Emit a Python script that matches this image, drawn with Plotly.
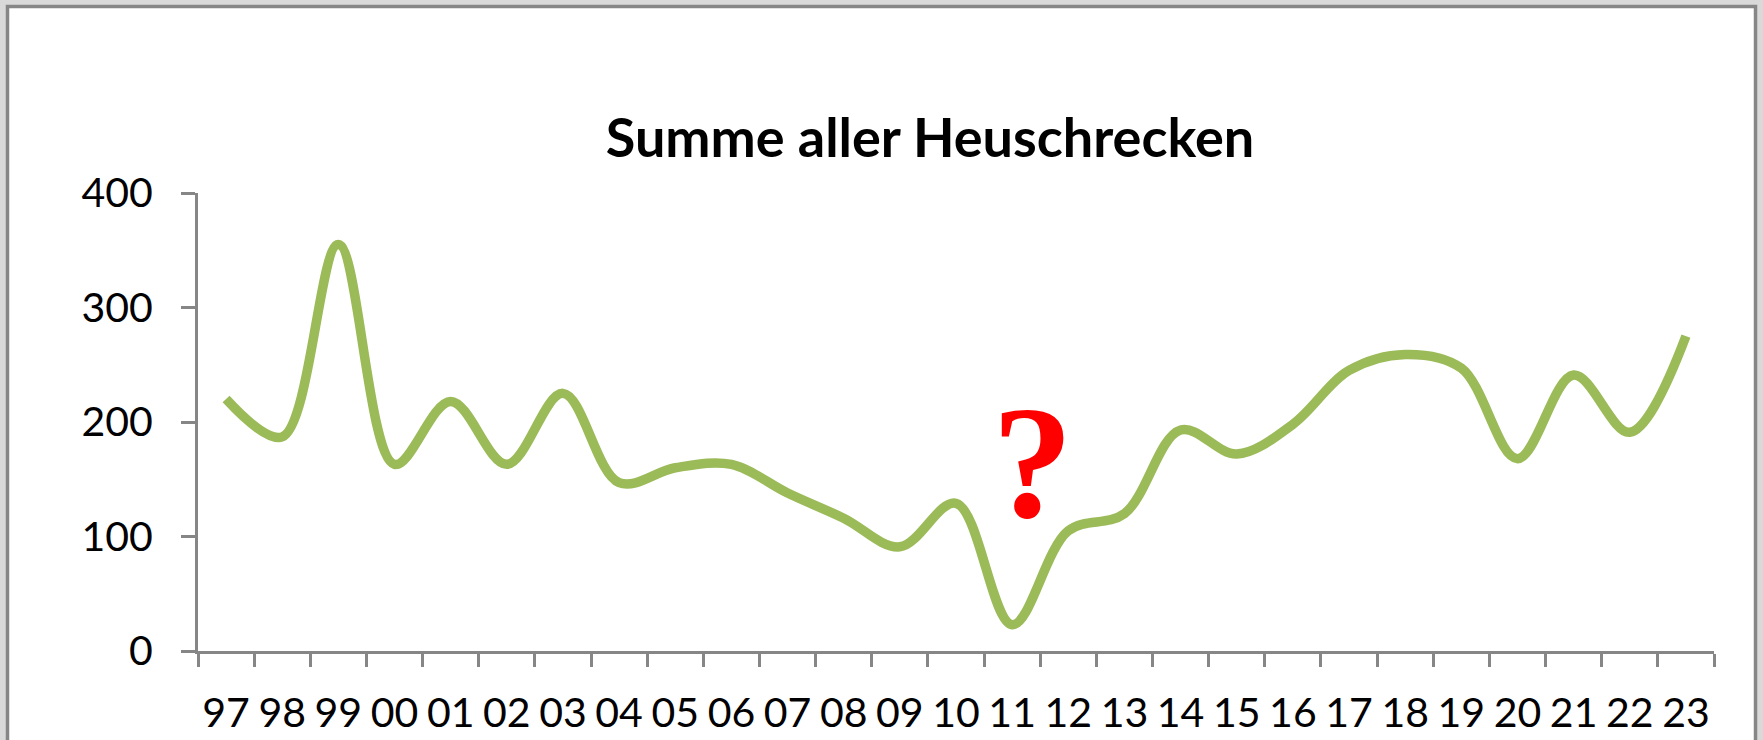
import plotly.graph_objects as go

years = ["97", "98", "99", "00", "01", "02", "03", "04", "05", "06", "07", "08", "09",
         "10", "11", "12", "13", "14", "15", "16", "17", "18", "19", "20", "21", "22", "23"]
summe = [220, 187, 355, 163, 218, 163, 225, 147, 160, 163, 138, 116, 91,
         129, 23, 105, 120, 193, 172, 198, 245, 259, 247, 168, 241, 191, 275]
y_ticks = [0, 100, 200, 300, 400]
title_text = "Summe aller Heuschrecken"

W, H = 1763, 740
L, R, T, B = 198, 49, 193, 89
PW, PH = W - L - R, H - T - B


def px_x(px):  # page px -> paper fraction
    return (px - L) / PW


def px_y(py):
    return (H - B - py) / PH


axis_col = "#868686"
tick_font = dict(family="Lato, Carlito, Calibri, sans-serif", size=41, color="#000000")

fig = go.Figure()
fig.add_trace(go.Scatter(
    x=years, y=summe, mode="lines",
    line=dict(color="#9BBB59", width=9.5, shape="spline", smoothing=1.0),
    hoverinfo="x+y", showlegend=False,
))

fig.update_layout(
    width=W, height=H,
    margin=dict(l=L, r=R, t=T, b=B, pad=0, autoexpand=False),
    paper_bgcolor="#d9d9d9",
    plot_bgcolor="rgba(0,0,0,0)",
    title=dict(text="<b>" + title_text + "</b>", x=930 / W, xanchor="center",
               y=1 - 138 / H, yanchor="middle",
               font=dict(family="Lato, Carlito, Calibri, sans-serif", size=54, color="#000000")),
    shapes=[dict(type="rect", xref="paper", yref="paper", layer="below",
                 x0=px_x(7.5), x1=px_x(1755.5), y0=px_y(780), y1=px_y(6.5),
                 line=dict(color=axis_col, width=3.5), fillcolor="#ffffff")],
    annotations=[dict(text="<b>?</b>", x=px_x(1032), y=px_y(462), xref="paper", yref="paper",
                      showarrow=False, xanchor="center", yanchor="middle",
                      font=dict(family="Liberation Serif, Times New Roman, serif", size=162,
                                color="#ff0000"))],
)

fig.update_xaxes(
    type="category", categoryorder="array", categoryarray=years,
    range=[-0.5, len(years) - 0.5], automargin=False, tickangle=0,
    showline=True, linecolor=axis_col, linewidth=3,
    ticks="outside", tickson="boundaries", ticklen=13, tickwidth=3, tickcolor=axis_col,
    showgrid=False, zeroline=False, tickfont=tick_font, ticklabelstandoff=24,
    fixedrange=True,
)
fig.update_yaxes(
    range=[0, 400], tickvals=y_ticks, automargin=False,
    showline=True, linecolor=axis_col, linewidth=3,
    ticks="outside", ticklen=14, tickwidth=3, tickcolor=axis_col,
    showgrid=False, zeroline=False, tickfont=tick_font, ticklabelstandoff=20,
    fixedrange=True,
)

fig.write_html("out.html", config={"displayModeBar": False},
               post_script="document.body.style.margin='0px';")
